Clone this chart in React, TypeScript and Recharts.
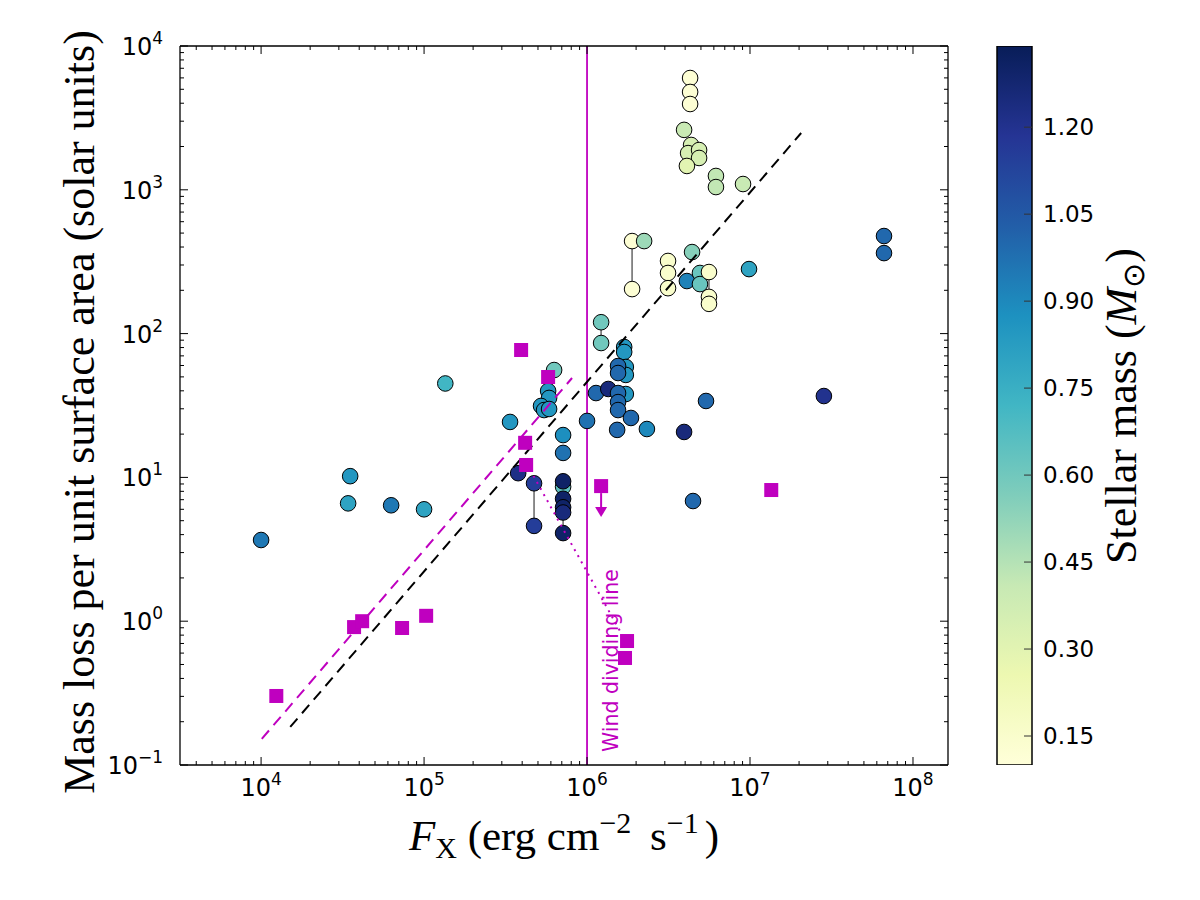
import React from "react";
import { ScatterChart, Scatter, XAxis, YAxis, ReferenceLine, BarChart, Bar } from "recharts";

// Stars: X-ray surface flux (erg cm^-2 s^-1), mass loss per unit area (solar units), stellar mass (Msun)
const starFx = [
    1.0e4, 3.52e4, 3.42e4, 6.28e4, 1.0e5, 1.35e5, 3.37e5, 3.78e5, 4.73e5, 4.73e5,
    6.28e5, 5.77e5, 5.85e5, 5.22e5, 5.45e5, 5.85e5, 7.13e5, 7.13e5, 7.13e5, 7.13e5,
    7.13e5, 7.13e5, 7.13e5, 7.13e5, 1.0e6, 1.135e6, 1.35e6, 1.22e6, 1.22e6, 1.69e6,
    1.69e6, 1.73e6, 1.73e6, 1.73e6, 1.55e6, 1.55e6, 1.55e6, 1.55e6, 1.55e6, 1.86e6,
    1.53e6, 2.33e6, 3.94e6, 5.37e6, 2.84e7, 4.47e6, 4.29e6, 4.29e6, 4.29e6, 3.94e6,
    4.35e6, 4.17e6, 4.87e6, 4.87e6, 4.1e6, 6.18e6, 6.18e6, 9.06e6, 1.89e6, 2.24e6,
    1.89e6, 3.14e6, 3.14e6, 3.14e6, 4.41e6, 4.1e6, 4.93e6, 4.93e6, 5.6e6, 5.6e6,
    5.6e6, 9.86e6, 6.64e7, 6.64e7,
];
const starMdot = [
    3.67, 10.2, 6.6, 6.4, 6.0, 45, 24.3, 10.7, 9.1, 4.6,
    55.8, 39.9, 35.7, 31.4, 29.4, 29.9, 19.7, 14.8, 8.6, 9.4,
    7.1, 6.2, 5.7, 4.1, 24.7, 38.6, 41.2, 120, 86, 80.7,
    74.5, 58.6, 51.6, 38.0, 59.5, 53.2, 38.6, 33.4, 29.4, 25.9,
    21.4, 21.7, 20.7, 34.0, 36.8, 6.85, 5990, 4790, 3950, 2610,
    2050, 1800, 1890, 1665, 1465, 1248, 1045, 1097, 440, 440,
    204, 320, 264, 207, 369, 232, 264, 221, 268, 180,
    161, 281, 477, 363,
];
const starMass = [
    0.95, 0.85, 0.8, 0.95, 0.8, 0.72, 0.85, 1.22, 1.15, 1.15,
    0.6, 0.85, 0.85, 0.85, 0.85, 0.85, 0.88, 0.97, 0.65, 1.3,
    1.3, 1.3, 1.25, 1.3, 0.97, 1.0, 1.25, 0.6, 0.6, 0.85,
    0.85, 0.85, 0.85, 0.85, 1.0, 1.0, 1.0, 1.0, 1.0, 1.0,
    1.0, 0.9, 1.25, 1.0, 1.2, 1.0, 0.12, 0.12, 0.12, 0.4,
    0.35, 0.35, 0.35, 0.35, 0.3, 0.42, 0.42, 0.4, 0.12, 0.5,
    0.12, 0.15, 0.15, 0.15, 0.55, 0.92, 0.62, 0.62, 0.15, 0.15,
    0.15, 0.8, 1.0, 1.0,
];
// two measurements of the same star, joined by a grey line (indices into the star arrays)
const linkedPairs = [[8, 9], [19, 23], [27, 28], [58, 60], [68, 69]];

// magenta squares
const sqFx = [1.24e4, 3.72e4, 4.17e4, 7.33e4, 1.03e5, 4.17e5, 4.23e5, 3.94e5, 5.77e5, 1.22e6, 1.35e7, 1.76e6, 1.71e6];
const sqMdot = [0.302, 0.91, 1.0, 0.897, 1.09, 17.4, 12.2, 76.9, 49.9, 8.7, 8.17, 0.728, 0.555];
const sqUpperLimit = [false, false, false, false, false, false, false, false, false, true, false, false, false];

// fits
const fitAllFx = [1.51e4, 2.06e7];
const fitAllMdot = [0.184, 2483];
const fitSqFx = [1.01e4, 8.09e5];
const fitSqMdot = [0.152, 49.1];
const dottedFx = [4.47e5, 1.71e6];
const dottedMdot = [11.3, 0.74];
const windFx = 1e6;

const xDomain = [3180, 1.64e8];
const yDomain = [0.1, 1e4];
const massRange = [0.1, 1.34];
const massTicks = [0.15, 0.3, 0.45, 0.6, 0.75, 0.9, 1.05, 1.2];

const MAGENTA = "#bf00bf";
const YLGNBU = ["#ffffd9", "#edf8b1", "#c7e9b4", "#7fcdbb", "#41b6c4", "#1d91c0", "#225ea8", "#253494", "#081d58"];

const hex = (c: string) => [1, 3, 5].map((i) => parseInt(c.slice(i, i + 2), 16));
const massColor = (m: number) => {
    const t = Math.min(1, Math.max(0, (m - massRange[0]) / (massRange[1] - massRange[0]))) * 8;
    const i = Math.min(7, Math.floor(t));
    const f = t - i;
    const a = hex(YLGNBU[i]);
    const b = hex(YLGNBU[i + 1]);
    const rgb = a.map((v, k) => Math.round(v + (b[k] - v) * f));
    return `rgb(${rgb.join(",")})`;
};

const logTicks = (lo: number, hi: number) => {
    const out: number[] = [];
    for (let e = Math.floor(Math.log10(lo)); e <= Math.ceil(Math.log10(hi)); e++) {
        for (let k = 1; k <= 9; k++) {
            const v = k * Math.pow(10, e);
            if (v >= lo * 0.999 && v <= hi * 1.001) out.push(v);
        }
    }
    return out;
};
const isMajor = (v: number) => Math.abs(Math.log10(v) - Math.round(Math.log10(v))) < 1e-6;
const expText = (v: number) => {
    const e = Math.round(Math.log10(v));
    return e < 0 ? `\u2212${-e}` : `${e}`;
};

const stars = starFx.map((x, i) => ({ x, y: starMdot[i], m: starMass[i] }));
const squares = sqFx.map((x, i) => ({ x, y: sqMdot[i], upper: sqUpperLimit[i] }));
const fitAll = fitAllFx.map((x, i) => ({ x, y: fitAllMdot[i] }));
const fitSq = fitSqFx.map((x, i) => ({ x, y: fitSqMdot[i] }));
const dotted = dottedFx.map((x, i) => ({ x, y: dottedMdot[i] }));

const SANS = "DejaVu Sans, sans-serif";
const SERIF = "Liberation Serif, Times New Roman, serif";

const Nothing = () => <g />;

const StarDot = (p: any) => (
    <circle cx={p.cx} cy={p.cy} r={7.8} fill={massColor(p.payload.m)} stroke="#000" strokeWidth={1} />
);

const SquareDot = (p: any) => (
    <g>
        <rect x={p.cx - 7} y={p.cy - 7} width={14} height={14} fill={MAGENTA} />
        {p.payload.upper && (
            <g>
                <line x1={p.cx} y1={p.cy + 7} x2={p.cx} y2={p.cy + 23} stroke={MAGENTA} strokeWidth={2} />
                <path d={`M${p.cx - 6},${p.cy + 21} L${p.cx + 6},${p.cy + 21} L${p.cx},${p.cy + 31} Z`} fill={MAGENTA} />
            </g>
        )}
    </g>
);

const BottomTick = (p: any) => {
    const major = isMajor(p.payload.value);
    return (
        <g>
            <line x1={p.x} y1={p.y} x2={p.x} y2={p.y - (major ? 8 : 4)} stroke="#000" />
            {major && (
                <text x={p.x} y={p.y + 31} textAnchor="middle" fontFamily={SANS} fontSize={24} fill="#000">
                    10<tspan fontSize={17} dy={-11}>{expText(p.payload.value)}</tspan>
                </text>
            )}
        </g>
    );
};
const TopTick = (p: any) => {
    const major = isMajor(p.payload.value);
    return <line x1={p.x} y1={p.y} x2={p.x} y2={p.y + (major ? 8 : 4)} stroke="#000" />;
};
const LeftTick = (p: any) => {
    const major = isMajor(p.payload.value);
    return (
        <g>
            <line x1={p.x} y1={p.y} x2={p.x + (major ? 8 : 4)} y2={p.y} stroke="#000" />
            {major && (
                <text x={p.x - 17} y={p.y + 9} textAnchor="end" fontFamily={SANS} fontSize={24} fill="#000">
                    10<tspan fontSize={17} dy={-11}>{expText(p.payload.value)}</tspan>
                </text>
            )}
        </g>
    );
};
const RightTick = (p: any) => {
    const major = isMajor(p.payload.value);
    return <line x1={p.x} y1={p.y} x2={p.x - (major ? 8 : 4)} y2={p.y} stroke="#000" />;
};

const XTitle = (p: any) => {
    const vb = p.viewBox;
    return (
        <text x={564} y={vb.y + 85} textAnchor="middle" fontFamily={SERIF} fontSize={43} fill="#000">
            <tspan fontStyle="italic">F</tspan>
            <tspan fontSize={30} dy={8}>X</tspan>
            <tspan dy={-8}> (erg cm</tspan>
            <tspan fontSize={30} dy={-17}>{"\u22122"}</tspan>
            <tspan dy={17} dx={8}> s</tspan>
            <tspan fontSize={30} dy={-17}>{"\u22121"}</tspan>
            <tspan dy={17} dx={6}>)</tspan>
        </text>
    );
};

const YTitle = () => {
    const cx = 94;
    const cy = 412;
    return (
        <text x={cx} y={cy} transform={`rotate(-90 ${cx} ${cy})`} textAnchor="middle" fontFamily={SERIF} fontSize={44} fill="#000">
            Mass loss per unit surface area (solar units)
        </text>
    );
};

const WindLabel = (p: any) => {
    const vb = p.viewBox;
    const tx = vb.x + 31;
    const ty = vb.y + vb.height - 13;
    return (
        <text x={tx} y={ty} transform={`rotate(-90 ${tx} ${ty})`} fontFamily={SANS} fontSize={20.5} fill={MAGENTA}>
            Wind dividing line
        </text>
    );
};

const CbTick = (p: any) => (
    <g>
        <line x1={p.x} y1={p.y} x2={p.x - 8} y2={p.y} stroke="#333" />
        <text x={p.x + 11} y={p.y + 8} fontFamily={SANS} fontSize={23} fill="#000">
            {Number(p.payload.value).toFixed(2)}
        </text>
    </g>
);

const CbTitle = () => {
    // colorbar chart is offset 960px to the right
    const cx = 1136 - 960;
    const cy = 406;
    return (
        <text x={cx} y={cy} transform={`rotate(-90 ${cx} ${cy})`} textAnchor="middle" fontFamily={SERIF} fontSize={44} fill="#000">
            Stellar mass (<tspan fontStyle="italic">M</tspan>
            <tspan fontSize={30} dy={8}>{"\u2299"}</tspan>
            <tspan dy={-8}>)</tspan>
        </text>
    );
};

const xTicks = logTicks(xDomain[0], xDomain[1]);
const yTicks = logTicks(yDomain[0], yDomain[1]);
const colorbarData = [{ name: "mass", range: massRange }];

export default function App() {
    return (
        <div style={{ position: "absolute", left: 0, top: 0, width: 1200, height: 900, background: "#fff" }}>
            <div style={{ position: "absolute", left: 0, top: 0 }}>
                <ScatterChart width={1200} height={900} margin={{ top: 45, right: 251, bottom: 134, left: 179 }}>
                    <XAxis
                        dataKey="x"
                        type="number"
                        scale="log"
                        domain={xDomain}
                        allowDataOverflow
                        ticks={xTicks}
                        interval={0}
                        height={1}
                        tickSize={0}
                        tickMargin={0}
                        tickLine={false}
                        axisLine={{ stroke: "#000", strokeWidth: 1.3 }}
                        tick={<BottomTick />}
                        label={XTitle}
                    />
                    <XAxis
                        xAxisId="top"
                        orientation="top"
                        dataKey="x"
                        type="number"
                        scale="log"
                        domain={xDomain}
                        allowDataOverflow
                        ticks={xTicks}
                        interval={0}
                        height={1}
                        tickSize={0}
                        tickMargin={0}
                        tickLine={false}
                        axisLine={{ stroke: "#000", strokeWidth: 1.3 }}
                        tick={<TopTick />}
                    />
                    <YAxis
                        dataKey="y"
                        type="number"
                        scale="log"
                        domain={yDomain}
                        allowDataOverflow
                        ticks={yTicks}
                        interval={0}
                        width={1}
                        tickSize={0}
                        tickMargin={0}
                        tickLine={false}
                        axisLine={{ stroke: "#000", strokeWidth: 1.3 }}
                        tick={<LeftTick />}
                        label={YTitle}
                    />
                    <YAxis
                        yAxisId="right"
                        orientation="right"
                        dataKey="y"
                        type="number"
                        scale="log"
                        domain={yDomain}
                        allowDataOverflow
                        ticks={yTicks}
                        interval={0}
                        width={1}
                        tickSize={0}
                        tickMargin={0}
                        tickLine={false}
                        axisLine={{ stroke: "#000", strokeWidth: 1.3 }}
                        tick={<RightTick />}
                    />
                    {linkedPairs.map(([a, b], i) => (
                        <Scatter
                            key={`pair-${i}`}
                            data={[stars[a], stars[b]]}
                            line={{ stroke: "#808080", strokeWidth: 1.8 }}
                            shape={Nothing}
                            isAnimationActive={false}
                        />
                    ))}
                    <Scatter data={stars} shape={StarDot} isAnimationActive={false} />
                    <Scatter
                        data={fitAll}
                        line={{ stroke: "#000", strokeWidth: 2, strokeDasharray: "11 7" }}
                        shape={Nothing}
                        isAnimationActive={false}
                    />
                    <Scatter
                        data={fitSq}
                        line={{ stroke: MAGENTA, strokeWidth: 2, strokeDasharray: "11 7" }}
                        shape={Nothing}
                        isAnimationActive={false}
                    />
                    <Scatter
                        data={dotted}
                        line={{ stroke: MAGENTA, strokeWidth: 2, strokeDasharray: "2 5" }}
                        shape={Nothing}
                        isAnimationActive={false}
                    />
                    <Scatter data={squares} shape={SquareDot} isAnimationActive={false} />
                    <ReferenceLine x={windFx} stroke={MAGENTA} strokeWidth={1.8} label={WindLabel} />
                </ScatterChart>
            </div>
            <div style={{ position: "absolute", left: 960, top: 0 }}>
                <BarChart
                    width={240}
                    height={900}
                    data={colorbarData}
                    margin={{ top: 46, right: 167, bottom: 135, left: 37 }}
                    barCategoryGap={0}
                >
                    <defs>
                        <linearGradient id="ylgnbu" x1="0" y1="1" x2="0" y2="0">
                            {YLGNBU.map((c, i) => (
                                <stop key={c} offset={`${(i / (YLGNBU.length - 1)) * 100}%`} stopColor={c} />
                            ))}
                        </linearGradient>
                    </defs>
                    <XAxis dataKey="name" hide />
                    <YAxis
                        orientation="right"
                        type="number"
                        domain={massRange}
                        allowDataOverflow
                        ticks={massTicks}
                        interval={0}
                        width={1}
                        tickSize={0}
                        tickMargin={0}
                        tickLine={false}
                        axisLine={false}
                        tick={<CbTick />}
                        label={CbTitle}
                    />
                    <Bar dataKey="range" fill="url(#ylgnbu)" stroke="#000" strokeWidth={1.5} isAnimationActive={false} />
                </BarChart>
            </div>
        </div>
    );
}
